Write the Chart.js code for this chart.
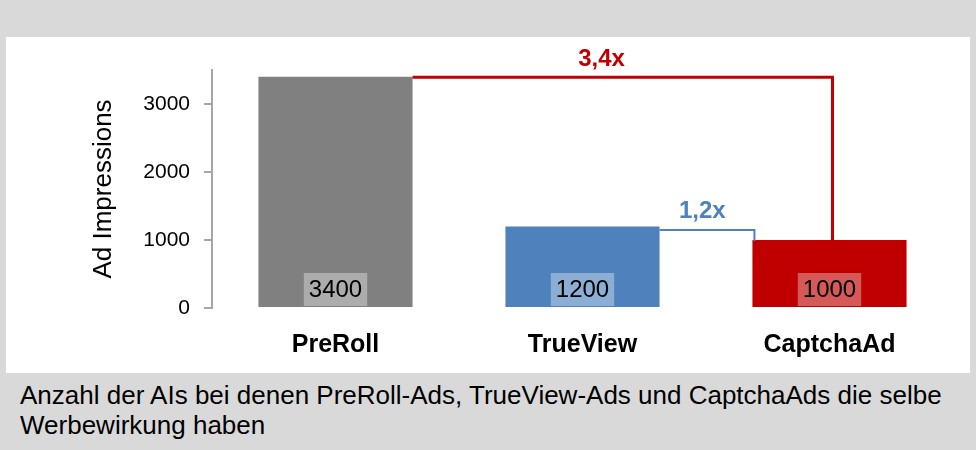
<!DOCTYPE html>
<html>
<head>
<meta charset="utf-8">
<script src="https://cdn.jsdelivr.net/npm/chart.js@4.4.1/dist/chart.umd.min.js"></script>
<style>
html, body { margin: 0; padding: 0; width: 976px; height: 450px; overflow: hidden; background: #d9d9d9;
  font-family: "Liberation Sans", Arial, Helvetica, sans-serif; }
#panel { position: absolute; left: 6px; top: 37px; width: 964px; height: 336px; background: #fff; }
#caption { position: absolute; left: 20px; top: 380px; font-size: 26px; line-height: 30px; color: #000; white-space: nowrap; }
</style>
</head>
<body>
<div id="panel"><canvas id="chart" width="964" height="336"></canvas></div>
<div id="caption">Anzahl der AIs bei denen PreRoll-Ads, TrueView-Ads und CaptchaAds die selbe<br>Werbewirkung haben</div>
<script>
const categories = ['PreRoll', 'TrueView', 'CaptchaAd'];
const impressions = [3400, 1200, 1000];
const yTicks = [0, 1000, 2000, 3000];
const yMax = 3500;

const barColors = ['#808080', '#4f81bd', '#c00000'];
const FONT = '"Liberation Sans", Arial, Helvetica, sans-serif';

// brackets comparing one bar with another, ratio text is worked out from the data
const links = [
    { from: 0, to: 2, color: '#c00000', width: 3, drop: 'center', shift: 0.5, gap: 11 },
    { from: 1, to: 2, color: '#4f81bd', width: 2, drop: 'left', shift: 3.5, gap: 12 }
];

const ratioText = (a, b) => (impressions[a] / impressions[b]).toFixed(1).replace('.', ',') + 'x';

const labelPlugin = {
    id: 'barExtras',
    afterDatasetsDraw(chart) {
        const ctx = chart.ctx;
        const bars = chart.getDatasetMeta(0).data;
        const base = chart.scales.y.getPixelForValue(0);
        ctx.save();

        // value boxes at the foot of each bar
        ctx.font = '24px ' + FONT;
        ctx.textAlign = 'center';
        ctx.textBaseline = 'middle';
        bars.forEach((bar, i) => {
            const txt = String(impressions[i]);
            const w = ctx.measureText(txt).width + 10;
            const h = 33;
            const top = base - 2 - h;
            ctx.fillStyle = 'rgba(255,255,255,0.35)';
            ctx.fillRect(bar.x - w / 2, top, w, h);
            ctx.fillStyle = '#000';
            ctx.fillText(txt, bar.x, top + h / 2 + 1);
        });

        // ratio brackets
        ctx.font = 'bold 24px ' + FONT;
        ctx.textBaseline = 'alphabetic';
        links.forEach(l => {
            const a = bars[l.from], b = bars[l.to];
            const y = a.y + l.shift;
            const x0 = a.x + a.width / 2;
            const x1 = l.drop === 'center' ? b.x + 3 : b.x - b.width / 2 + 2;
            ctx.strokeStyle = l.color;
            ctx.lineWidth = l.width;
            ctx.beginPath();
            ctx.moveTo(x0, y);
            ctx.lineTo(x1, y);
            ctx.lineTo(x1, b.y + 1);
            ctx.stroke();
            ctx.fillStyle = l.color;
            ctx.fillText(ratioText(l.from, l.to), x0 + (x1 - x0) * 0.45, y - l.gap);
        });
        ctx.restore();
    }
};

new Chart(document.getElementById('chart'), {
    type: 'bar',
    data: {
        labels: categories,
        datasets: [{
            data: impressions,
            backgroundColor: barColors,
            categoryPercentage: 1,
            barPercentage: 0.624
        }]
    },
    options: {
        responsive: false,
        animation: false,
        layout: { padding: { top: 33, right: 17, left: 0, bottom: 0 } },
        plugins: {
            legend: { display: false },
            tooltip: { enabled: false }
        },
        scales: {
            x: {
                grid: { display: false, drawTicks: false },
                border: { display: false },
                ticks: { color: '#000', padding: 22, font: { family: FONT, size: 25, weight: 'bold' } },
                afterFit: s => { s.height = 65; }
            },
            y: {
                min: 0,
                max: yMax,
                afterBuildTicks: s => { s.ticks = yTicks.map(v => ({ value: v })); },
                afterFit: s => { s.width = 206; },
                grid: { drawOnChartArea: false, drawTicks: true, tickLength: 8, color: '#a6a6a6', lineWidth: 2 },
                border: { color: '#a6a6a6', width: 2 },
                ticks: {
                    color: '#000',
                    padding: 14,
                    font: { family: FONT, size: 21 },
                    callback: v => String(v)
                },
                title: {
                    display: true,
                    text: 'Ad Impressions',
                    color: '#000',
                    font: { family: FONT, size: 26 },
                    padding: { top: 82, bottom: 0 }
                }
            }
        }
    },
    plugins: [labelPlugin]
});
</script>
</body>
</html>
